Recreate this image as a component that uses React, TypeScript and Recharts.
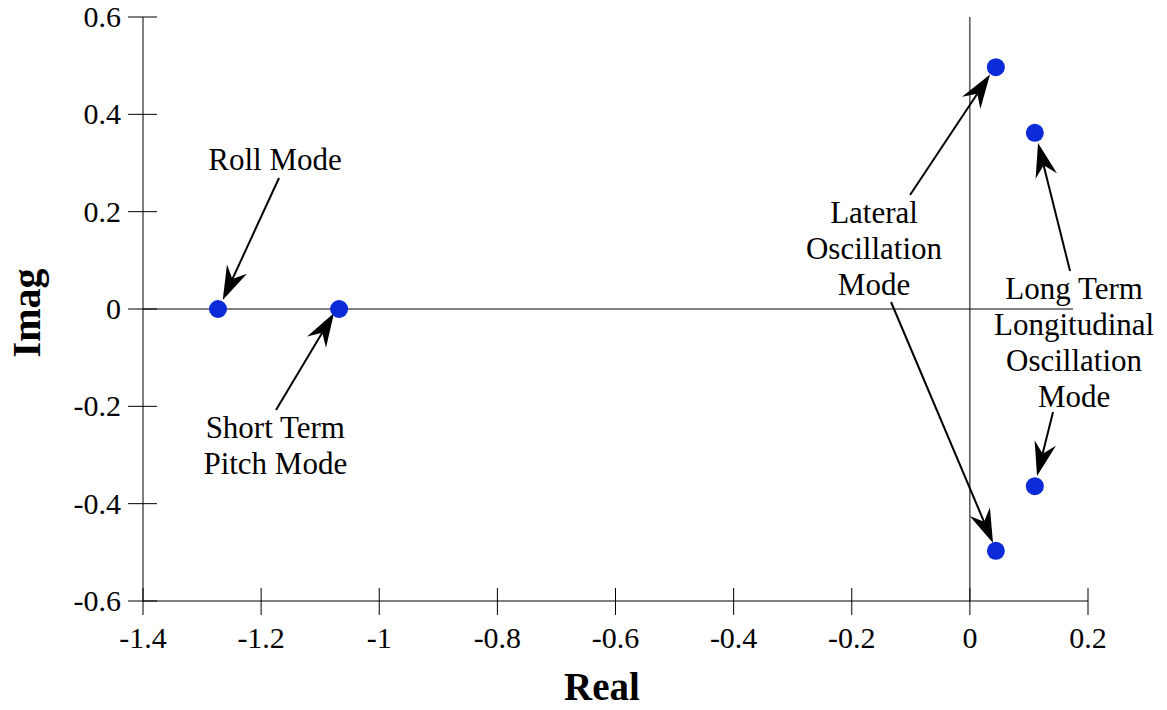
import React from "react";
import {
  ScatterChart,
  Scatter,
  XAxis,
  YAxis,
  ReferenceLine,
} from "recharts";

// Pole locations (real, imag)
const poleReal = [-1.273, -1.068, 0.044, 0.044, 0.110, 0.110];
const poleImag = [0, 0, 0.497, -0.497, 0.362, -0.364];

const xTicks = [-1.4, -1.2, -1, -0.8, -0.6, -0.4, -0.2, 0, 0.2];
const yTicks = [-0.6, -0.4, -0.2, 0, 0.2, 0.4, 0.6];

// Annotation texts (anchor = baseline of first line, centre x)
const noteText = [
  ["Roll Mode"],
  ["Short Term", "Pitch Mode"],
  ["Lateral", "Oscillation", "Mode"],
  ["Long Term", "Longitudinal", "Oscillation", "Mode"],
];
const noteX = [-1.1765, -1.176, -0.1623, 0.1764];
const noteY = [0.2856, -0.265, 0.1767, 0.0214];

// Arrows: start (x, y) -> tip (x, y)
const arrowStartX = [-1.1697, -1.1748, -0.1013, -0.1335, 0.1696, 0.1408];
const arrowStartY = [0.2692, -0.2075, 0.2342, 0.0144, 0.0781, -0.2116];
const arrowTipX = [-1.265, -1.0766, 0.0341, 0.0392, 0.1154, 0.1137];
const arrowTipY = [0.0185, -0.0082, 0.4818, -0.4808, 0.3411, -0.3431];

const poles = poleReal.map((x, i) => ({ x, y: poleImag[i] }));
const notes = noteText.map((lines, i) => ({ x: noteX[i], y: noteY[i], lines }));

const FONT = "'Liberation Serif', 'Times New Roman', serif";

const Arrow = (props: any) => {
  const { x1, y1, x2, y2 } = props;
  const dx = x2 - x1;
  const dy = y2 - y1;
  const len = Math.sqrt(dx * dx + dy * dy) || 1;
  const ux = dx / len;
  const uy = dy / len;
  const nx = -uy;
  const ny = ux;
  const L = 34;
  const W = 11;
  const N = 23;
  const bx = x2 - ux * L;
  const by = y2 - uy * L;
  const notchX = x2 - ux * N;
  const notchY = y2 - uy * N;
  const pts = `${x2},${y2} ${bx + nx * W},${by + ny * W} ${notchX},${notchY} ${bx - nx * W},${by - ny * W}`;
  return (
    <g>
      <line x1={x1} y1={y1} x2={notchX} y2={notchY} stroke="#000" strokeWidth={2} />
      <polygon points={pts} fill="#000" />
    </g>
  );
};

const NoteShape = (props: any) => {
  const { cx, cy, payload } = props;
  const lines: string[] = payload.lines || [];
  return (
    <text x={cx} y={cy} textAnchor="middle" fontFamily={FONT} fontSize={31} fill="#000">
      {lines.map((l, i) => (
        <tspan key={i} x={cx} dy={i === 0 ? 0 : 36}>
          {l}
        </tspan>
      ))}
    </text>
  );
};

const XTick = (props: any) => {
  const { x, y, payload } = props;
  return (
    <g>
      <line x1={x} x2={x} y1={y - 13} y2={y + 14} stroke="#000" strokeWidth={1} />
      <text x={x} y={y + 47} textAnchor="middle" fontFamily={FONT} fontSize={30} fill="#000">
        {String(payload.value)}
      </text>
    </g>
  );
};

const YTick = (props: any) => {
  const { x, y, payload } = props;
  return (
    <g>
      <line x1={x - 15} x2={x + 14} y1={y} y2={y} stroke="#000" strokeWidth={1} />
      <text x={x - 22} y={y + 10} textAnchor="end" fontFamily={FONT} fontSize={30} fill="#000">
        {String(payload.value)}
      </text>
    </g>
  );
};

const XTitle = (props: any) => {
  const { viewBox } = props;
  return (
    <text x={602} y={viewBox.y + 99} textAnchor="middle" fontFamily={FONT} fontWeight="bold" fontSize={39} fill="#000">
      Real
    </text>
  );
};

const YTitle = (props: any) => {
  const { viewBox } = props;
  const cy = viewBox.y + viewBox.height / 2 + 4;
  return (
    <text x={40} y={cy} transform={`rotate(-90, 40, ${cy})`} textAnchor="middle" fontFamily={FONT} fontWeight="bold" fontSize={40} fill="#000">
      Imag
    </text>
  );
};

export default function App() {
  return (
    <div style={{ position: "absolute", left: 0, top: 0, width: 1167, height: 710, background: "#fff" }}>
      <ScatterChart width={1167} height={710} margin={{ top: 17, right: 79, bottom: 0, left: 0 }}>
        <XAxis
          type="number"
          dataKey="x"
          domain={[-1.4, 0.2]}
          ticks={xTicks}
          interval={0}
          height={109}
          tickSize={0}
          tickMargin={0}
          tickLine={false}
          axisLine={{ stroke: "#000", strokeWidth: 1 }}
          tick={<XTick />}
          label={{ content: <XTitle /> }}
        />
        <YAxis
          type="number"
          dataKey="y"
          domain={[-0.6, 0.6]}
          ticks={yTicks}
          interval={0}
          width={143}
          tickSize={0}
          tickMargin={0}
          tickLine={false}
          axisLine={{ stroke: "#000", strokeWidth: 1 }}
          tick={<YTick />}
          label={{ content: <YTitle /> }}
        />
        <ReferenceLine x={0} stroke="#000" strokeWidth={1} />
        <ReferenceLine
          segment={[
            { x: -1.4, y: 0 },
            { x: 0.1747, y: 0 },
          ]}
          stroke="#000"
          strokeWidth={1}
        />
        {arrowStartX.map((sx, i) => (
          <ReferenceLine
            key={`arrow-${i}`}
            segment={[
              { x: sx, y: arrowStartY[i] },
              { x: arrowTipX[i], y: arrowTipY[i] },
            ]}
            shape={(p: any) => <Arrow {...p} />}
          />
        ))}
        <Scatter data={poles} fill="#0b2bd9" isAnimationActive={false} shape={(p: any) => <circle cx={p.cx} cy={p.cy} r={9} fill="#0b2bd9" />} />
        <Scatter data={notes} isAnimationActive={false} shape={(p: any) => <NoteShape {...p} />} />
      </ScatterChart>
    </div>
  );
}
